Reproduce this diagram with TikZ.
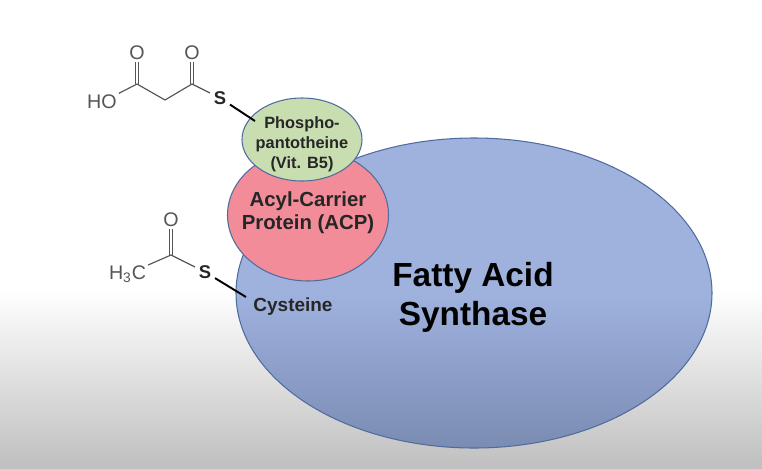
\documentclass[tikz,border=0pt]{standalone}
\usepackage{fontspec}
\setmainfont{Liberation Sans}
\definecolor{fasblue}{HTML}{9FB2DE}
\definecolor{fasdark}{HTML}{7B8CB3}
\definecolor{acppink}{HTML}{F28C98}
\definecolor{pantgreen}{HTML}{C9DEB0}
\definecolor{rimblue}{HTML}{4F6C9E}
\definecolor{bondgray}{HTML}{555555}
\tikzset{
    atom/.style={text=bondgray, font=\fontsize{11.2}{13}\selectfont, inner sep=1pt},
    sulfur/.style={text=black!85, font=\fontsize{10.5}{12}\selectfont\bfseries, inner sep=2pt},
    bond/.style={bondgray, line width=0.65pt},
    tether/.style={black, line width=1.1pt},
    label/.style={align=center, text=black!85, font=\fontsize{9.3}{11.4}\selectfont\bfseries}
}
\begin{document}
\begin{tikzpicture}[x=0.02cm, y=-0.02cm]
    \useasboundingbox (0,0) rectangle (762,468);
    % Fondo
    \fill[white] (0,0) rectangle (762,290);
    \shade[top color=white, bottom color=black!25] (0,290) rectangle (762,468);
    % Enzima
    \draw[rimblue, line width=0.6pt, top color=fasblue, bottom color=fasdark, middle color=fasblue] (474,293) ellipse (238 and 155);
    \draw[rimblue, line width=0.6pt, fill=acppink] (308,215) ellipse (80.5 and 66);
    \draw[rimblue, line width=0.6pt, fill=pantgreen] (302,139.5) ellipse (60 and 41.5);
    \node[label] (phos) at (302,144) {Phospho-\\pantotheine\\(Vit. B5)};
    \node[label, font=\fontsize{11.6}{13.2}\selectfont\bfseries] (acp) at (308,213) {Acyl-Carrier\\Protein (ACP)};
    \node[label, font=\fontsize{10.8}{12}\selectfont\bfseries] (cys) at (293,307) {Cysteine};
    \node[label, text=black, font=\fontsize{19}{22.2}\selectfont\bfseries] (fas) at (473,297) {Fatty Acid\\Synthase};
    % Malonilo
    \coordinate (cone) at (137,84);
    \coordinate (cmid) at (165,100);
    \coordinate (ctwo) at (192,84);
    \coordinate (tipone) at (255,121);
    \node[atom] (ho) at (102,102) {HO};
    \node[atom] (oone) at (137,53) {O};
    \node[atom] (otwo) at (192,53) {O};
    \node[sulfur] (sone) at (220,98) {S};
    \draw[bond] (ho) -- (cone) -- (cmid) -- (ctwo) -- (sone);
    \draw[bond] ([xshift=-1pt]cone) -- ([xshift=-1pt]oone.south);
    \draw[bond] ([xshift=1pt]cone) -- ([xshift=1pt]oone.south);
    \draw[bond] ([xshift=-1pt]ctwo) -- ([xshift=-1pt]otwo.south);
    \draw[bond] ([xshift=1pt]ctwo) -- ([xshift=1pt]otwo.south);
    \draw[tether] (sone) -- (tipone);
    % Acetilo
    \coordinate (cthree) at (171,255);
    \coordinate (tiptwo) at (246,297);
    \node[atom] (hthree) at (127.5,274) {H\textsubscript{3}C};
    \node[atom] (othree) at (171,220) {O};
    \node[sulfur] (stwo) at (205,272) {S};
    \draw[bond] (hthree) -- (cthree) -- (stwo);
    \draw[bond] ([xshift=-1pt]cthree) -- ([xshift=-1pt]othree.south);
    \draw[bond] ([xshift=1pt]cthree) -- ([xshift=1pt]othree.south);
    \draw[tether] (stwo) -- (tiptwo);
\end{tikzpicture}
\end{document}
